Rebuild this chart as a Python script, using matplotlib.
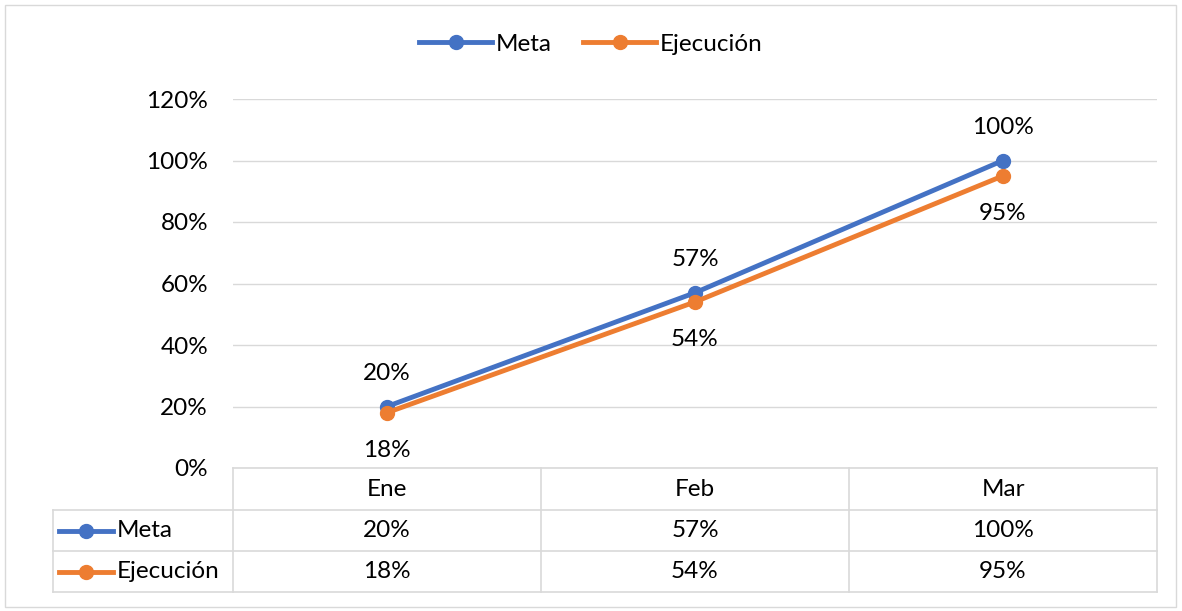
import matplotlib.pyplot as plt
from matplotlib.lines import Line2D
from matplotlib.patches import Rectangle

# Data
months = ["Ene", "Feb", "Mar"]
meta = [0.20, 0.57, 1.00]
ejecucion = [0.18, 0.54, 0.95]
series_names = ["Meta", "Ejecución"]
yticks = [0, 0.2, 0.4, 0.6, 0.8, 1.0, 1.2]

colors = ["#4472C4", "#ED7D31"]
grid_c = "#D9D9D9"
plt.rcParams["font.family"] = ["Lato", "DejaVu Sans"]
fs = 17.5

W, H = 1182, 611
fig = plt.figure(figsize=(W / 100, H / 100), dpi=100)


def fx(px):
    return px / W


def fy(py):
    return 1 - py / H


# outer frame
fig.patches.append(Rectangle((fx(5), fy(607)), fx(1171), 602 / H, transform=fig.transFigure,
                             fill=False, edgecolor=grid_c, lw=1))

# main axes
x0, x1, ytop, ybot = 233, 1157, 99, 468
ax = fig.add_axes([fx(x0), fy(ybot), fx(x1 - x0), (ybot - ytop) / H])
ax.set_xlim(-0.5, len(months) - 0.5)
ax.set_ylim(0, 1.2)
ax.set_yticks(yticks)
ax.set_yticklabels([f"{int(round(v * 100))}%" for v in yticks], fontsize=fs)
ax.tick_params(axis="y", length=0, pad=18)
ax.set_xticks([])
for s in ax.spines.values():
    s.set_visible(False)
ax.grid(axis="y", color=grid_c, lw=1)
ax.set_axisbelow(True)

xs = range(len(months))
l1, = ax.plot(xs, meta, color=colors[0], lw=3.5, marker="o", ms=10, label=series_names[0])
l2, = ax.plot(xs, ejecucion, color=colors[1], lw=3.5, marker="o", ms=10, label=series_names[1])
for i, v in enumerate(meta):
    ax.annotate(f"{int(round(v * 100))}%", (i, v), xytext=(0, 24), textcoords="offset points",
                ha="center", va="center", fontsize=fs)
for i, v in enumerate(ejecucion):
    ax.annotate(f"{int(round(v * 100))}%", (i, v), xytext=(0, -27), textcoords="offset points",
                ha="center", va="center", fontsize=fs)

fig.legend(handles=[l1, l2], loc="center", bbox_to_anchor=(0.5, fy(44)), ncol=2, frameon=False,
           fontsize=fs, handlelength=3.0, columnspacing=1.3, handletextpad=0.15)

# data table
col_edges = [233, 541, 849, 1157]
rows_y = [468, 510, 551, 592]
tbl_left = 53


def hline(y, xa, xb):
    fig.lines.append(Line2D([fx(xa), fx(xb)], [fy(y), fy(y)], transform=fig.transFigure,
                            color=grid_c, lw=1.2))


def vline(x, ya, yb):
    fig.lines.append(Line2D([fx(x), fx(x)], [fy(ya), fy(yb)], transform=fig.transFigure,
                            color=grid_c, lw=1.2))


hline(rows_y[0], col_edges[0], col_edges[-1])
for y in rows_y[1:]:
    hline(y, tbl_left, col_edges[-1])
for x in col_edges:
    vline(x, rows_y[0], rows_y[-1])
vline(tbl_left, rows_y[1], rows_y[-1])

for j, m in enumerate(months):
    cx = (col_edges[j] + col_edges[j + 1]) / 2
    fig.text(fx(cx), fy((rows_y[0] + rows_y[1]) / 2), m, ha="center", va="center", fontsize=fs)

for r, (name, vals) in enumerate(zip(series_names, [meta, ejecucion])):
    cy = (rows_y[r + 1] + rows_y[r + 2]) / 2
    fig.lines.append(Line2D([fx(59), fx(113)], [fy(cy), fy(cy)], transform=fig.transFigure,
                            color=colors[r], lw=3.5))
    fig.lines.append(Line2D([fx(86)], [fy(cy)], transform=fig.transFigure, color=colors[r],
                            marker="o", ms=10))
    fig.text(fx(117), fy(cy), name, ha="left", va="center", fontsize=fs)
    for j, v in enumerate(vals):
        cx = (col_edges[j] + col_edges[j + 1]) / 2
        fig.text(fx(cx), fy(cy), f"{int(round(v * 100))}%", ha="center", va="center", fontsize=fs)

fig.savefig("out.png", dpi=100)
